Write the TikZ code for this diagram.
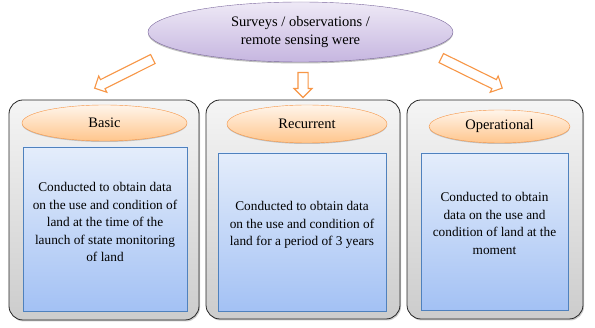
\documentclass[tikz,border=0pt]{standalone}
\usepackage{fontspec}
\setmainfont{Liberation Serif}
\usetikzlibrary{shapes.geometric,shapes.arrows,shadows}

\definecolor{boxline}{HTML}{262626}
\definecolor{orangeline}{HTML}{F79646}
\definecolor{blueline}{HTML}{4F81BD}
\definecolor{lilacline}{HTML}{7D6A9E}
\definecolor{bluetop}{HTML}{E4EDFB}
\definecolor{bluebot}{HTML}{A3C1F4}
\definecolor{lilactop}{HTML}{EEE9F6}
\definecolor{lilacbot}{HTML}{C6B6E0}

\begin{document}
\begin{tikzpicture}[x=1pt,y=1pt,
  topoval/.style={ellipse,draw=lilacline,top color=lilactop,bottom color=lilacbot,
    drop shadow={shadow xshift=0pt,shadow yshift=-1.5pt,opacity=.5},inner sep=0pt,
    minimum width=305pt,minimum height=60pt,align=center,font=\fontsize{14.5}{18}\selectfont},
  column/.style={draw=boxline,line width=.8pt,rounded corners=14pt,top color=gray!8,bottom color=gray!40,
    drop shadow={shadow xshift=1pt,shadow yshift=-1.5pt,opacity=.4}},
  kind/.style={ellipse,draw=orangeline,top color=orange!8,bottom color=orange!45,inner sep=0pt,
    drop shadow={shadow xshift=0pt,shadow yshift=-1pt,opacity=.4},font=\fontsize{14.5}{18}\selectfont},
  panel/.style={draw=blueline,top color=bluetop,bottom color=bluebot},
  desc/.style={align=center,font=\fontsize{13.3}{17.5}\selectfont},
  fatarrow/.style={single arrow,draw=orangeline,fill=white,line width=1.1pt,inner sep=4.5pt,
    single arrow head extend=4pt}]
  \useasboundingbox (0,0) rectangle (595,-328);

  % heading
  \node[topoval] (survey) at (300.5,-32) {Surveys / observations /\\remote sensing were};

  % arrows down to the three kinds
  \node[fatarrow,rotate=206.6,minimum height=65pt] (arrBasic) at (126,-72.5) {};
  \node[fatarrow,rotate=-90,minimum height=25pt] (arrRecur) at (303,-82.5) {};
  \node[fatarrow,rotate=-26.2,minimum height=68pt] (arrOper) at (469.5,-72) {};

  % columns
  \node[column,minimum width=190pt,minimum height=220pt] (colBasic) at (104,-210) {};
  \node[column,minimum width=194pt,minimum height=219pt] (colRecur) at (303,-209.5) {};
  \node[column,minimum width=176pt,minimum height=219pt] (colOper) at (495,-209.5) {};

  \node[kind,minimum width=165pt,minimum height=36pt] (basic) at (104.5,-123) {Basic};
  \node[kind,minimum width=160pt,minimum height=38pt] (recur) at (307,-124) {Recurrent};
  \node[kind,minimum width=141pt,minimum height=33pt] (oper) at (499.5,-126.5) {Operational};

  \node[panel,minimum width=164pt,minimum height=164pt] (pBasic) at (105,-229) {};
  \node[panel,minimum width=168pt,minimum height=158pt] (pRecur) at (302,-232) {};
  \node[panel,minimum width=147pt,minimum height=157pt] (pOper) at (494.5,-231.5) {};

  \node[desc] (tBasic) at ([yshift=7pt]pBasic.center) {Conducted to obtain data\\on the use and condition of\\land at the time of the\\launch of state monitoring\\of land};
  \node[desc] (tRecur) at ([yshift=7pt]pRecur.center) {Conducted to obtain data\\on the use and condition of\\land for a period of 3 years};
  \node[desc] (tOper) at ([yshift=8pt]pOper.center) {Conducted to obtain\\data on the use and\\condition of land at the\\moment};
\end{tikzpicture}
\end{document}
